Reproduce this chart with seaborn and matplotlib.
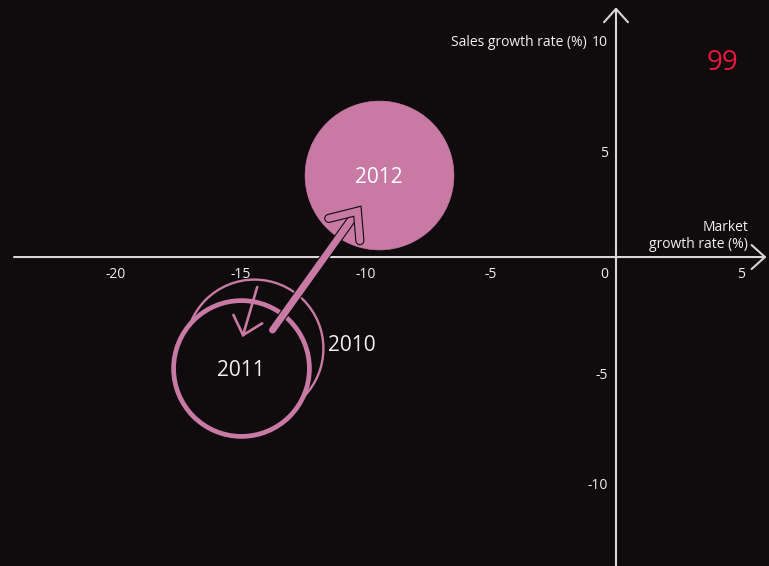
import matplotlib
matplotlib.use("Agg")
import matplotlib.pyplot as plt
import matplotlib.transforms as mtransforms
import matplotlib.patheffects as pe
import pandas as pd
import seaborn as sns

# ---- data -------------------------------------------------------------
years = ["2010", "2011", "2012"]
market_growth = [-14.5, -15.0, -9.5]     # x: market growth rate (%)
sales_growth = [-4.1, -5.0, 3.7]         # y: sales growth rate (%)
sales_volume = [103, 100, 120]           # bubble area

x_ticks = [-20, -15, -10, -5, 0, 5]
y_ticks = [10, 5, -5, -10]
x_title = "Market\ngrowth rate (%)"
y_title = "Sales growth rate (%)"
score_label = "99"

df = pd.DataFrame({"year": years, "market": market_growth,
                   "sales": sales_growth, "volume": sales_volume})

# ---- style ------------------------------------------------------------
BG = "#100b0d"
PINK = "#c87aa5"
AXIS = "#d8d6d7"
TXT = "#f2f0f1"
RED = "#e8193c"

sns.set_theme(style="white")
plt.rcParams["font.family"] = ["Open Sans", "DejaVu Sans"]

fig = plt.figure(figsize=(7.69, 5.66), dpi=100, facecolor=BG)
ax = fig.add_axes([0, 0, 1, 1], facecolor=BG)
ax.set_xlim(-24.64, 6.12)
ax.set_ylim(-13.92, 11.58)
ax.set_axis_off()

# ---- axis lines with open arrow heads --------------------------------
axis_props = dict(arrowstyle="->,head_length=0.8,head_width=0.72",
                  color=AXIS, lw=1.5, shrinkA=0, shrinkB=0)
ax.annotate("", xy=(6.02, 0), xytext=(-24.08, 0), arrowprops=axis_props, zorder=1)
ax.annotate("", xy=(0, 11.25), xytext=(0, -14.5), arrowprops=axis_props, zorder=1)


def px(dx, dy):
    """Data transform shifted by (dx, dy) pixels."""
    return mtransforms.offset_copy(ax.transData, fig=fig, x=dx * 0.72, y=dy * 0.72,
                                   units="points")


# ---- tick labels -----------------------------------------------------
for t in x_ticks:
    if t == 0:
        ax.text(t, 0, str(t), transform=px(-8, -17), ha="right", va="center",
                color=TXT, fontsize=10)
    else:
        ax.text(t, 0, str(t), transform=px(0, -17), ha="center", va="center",
                color=TXT, fontsize=10)
for t in y_ticks:
    ax.text(0, t, str(t), transform=px(-8, -7), ha="right", va="center",
            color=TXT, fontsize=10)

ax.text(0, max(y_ticks), y_title, transform=px(-29, -7), ha="right", va="center",
        color=TXT, fontsize=10)
ax.text(x_ticks[-1], 0, x_title, transform=px(7, 5), ha="right", va="bottom",
        color=TXT, fontsize=10, linespacing=1.15)

# ---- bubbles ---------------------------------------------------------
k = 95.6  # marker area (pt^2) per unit of volume
styles = {
    "2010": dict(facecolor=BG, edgecolor=PINK, linewidth=1.7),
    "2011": dict(facecolor=BG, edgecolor=PINK, linewidth=3.4),
    "2012": dict(facecolor=PINK, edgecolor=PINK, linewidth=0.5),
}
for i, row in df.iterrows():
    sub = df.iloc[[i]]
    sns.scatterplot(data=sub, x="market", y="sales", ax=ax, s=row["volume"] * k,
                    legend=False, zorder=2 + i, **styles[row["year"]])

# ---- year labels -----------------------------------------------------
ax.text(df.loc[0, "market"], df.loc[0, "sales"], years[0], transform=px(74, 3),
        ha="left", va="center", color=TXT, fontsize=15, zorder=6)
ax.text(df.loc[1, "market"], df.loc[1, "sales"], years[1], transform=px(0, -2),
        ha="center", va="center", color=TXT, fontsize=15, zorder=6)
ax.text(df.loc[2, "market"], df.loc[2, "sales"], years[2], transform=px(0, -3),
        ha="center", va="center", color="white", fontsize=15, zorder=6)

# ---- movement arrows -------------------------------------------------
# 2010 -> 2011 (thin)
ax.annotate("", xy=(df.loc[1, "market"], df.loc[1, "sales"]), xycoords=px(1.5, 31),
            xytext=(df.loc[0, "market"], df.loc[0, "sales"]), textcoords=px(3.7, 61),
            arrowprops=dict(arrowstyle="->,head_length=1.0,head_width=0.9",
                            color=PINK, lw=1.9, shrinkA=0, shrinkB=0,
                            capstyle="round", joinstyle="miter"),
            zorder=8)
# 2011 -> 2012 (thick, outlined)
ax.annotate("", xy=(df.loc[2, "market"], df.loc[2, "sales"]), xycoords=px(-18, -32),
            xytext=(df.loc[1, "market"], df.loc[1, "sales"]), textcoords=px(31.5, 38),
            arrowprops=dict(arrowstyle="->,head_length=1.35,head_width=1.15",
                            color=PINK, lw=5, shrinkA=0, shrinkB=0,
                            capstyle="round", joinstyle="miter",
                            path_effects=[pe.withStroke(linewidth=6.6, foreground=BG)]),
            zorder=9)

# ---- score -----------------------------------------------------------
ax.text(0.94, 0.888, score_label, transform=ax.transAxes, ha="center", va="center",
        color=RED, fontsize=20)

fig.savefig("out.png", dpi=100, facecolor=BG)
